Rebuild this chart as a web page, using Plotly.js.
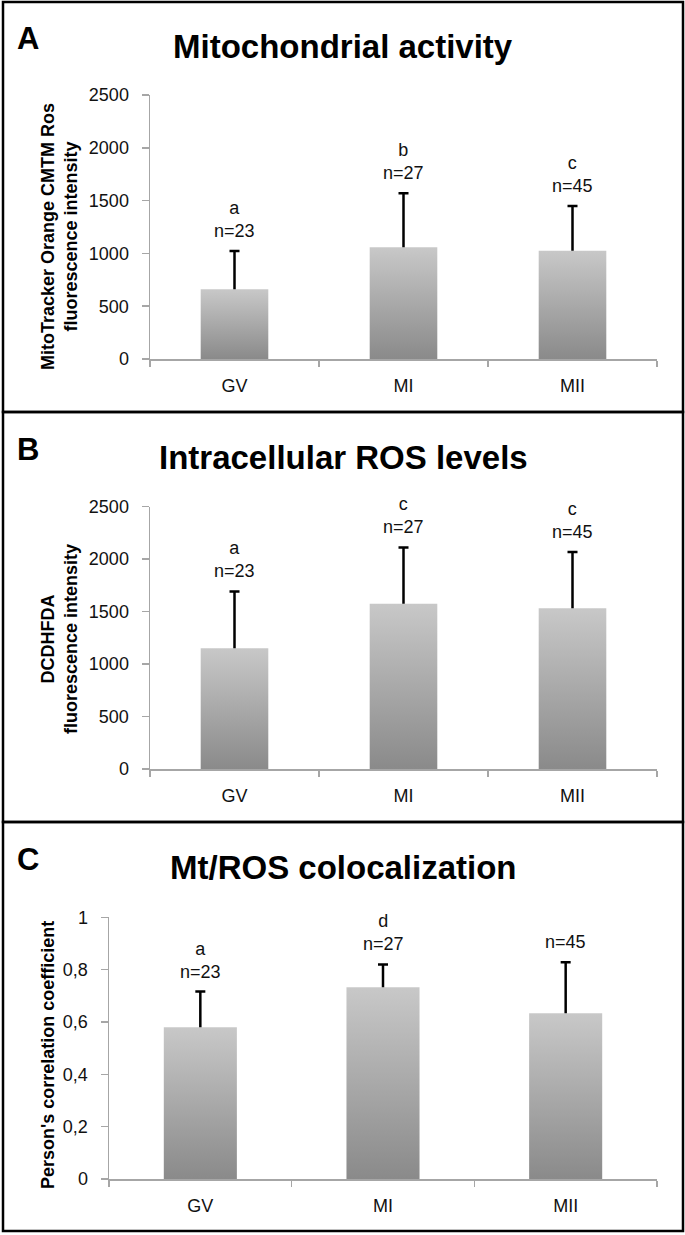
<!DOCTYPE html>
<html><head><meta charset="utf-8">
<script src="https://cdn.plot.ly/plotly-3.0.1.min.js"></script>
<style>html,body{margin:0;padding:0;background:#fff}</style>
</head><body>
<div id="chart" style="width:685px;height:1235px"></div>
<script>
// ---------- data ----------
const categories = ['GV', 'MI', 'MII'];
const sampleSizes = ['n=23', 'n=27', 'n=45'];

const mitoMean = [660, 1058, 1026];
const mitoSD = [363, 511, 423];
const mitoLetters = ['a', 'b', 'c'];

const rosMean = [1152, 1574, 1533];
const rosSD = [540, 538, 535];
const rosLetters = ['a', 'c', 'c'];

const corrMean = [0.58, 0.733, 0.633];
const corrSD = [0.136, 0.087, 0.195];
const corrLetters = ['a', 'd', ''];

const panelLetters = ['A', 'B', 'C'];
const panelTitles = ['Mitochondrial activity', 'Intracellular ROS levels', 'Mt/ROS colocalization'];
const yTitles = ['MitoTracker Orange CMTM Ros<br>fluorescence intensity',
                 'DCDHFDA<br>fluorescence intensity',
                 "Person's correlation coefficient"];

// ---------- geometry (pixels of the 685x1235 page) ----------
const W = 685, H = 1235;
const px = v => v / W;
const py = v => 1 - v / H;
const FONT = 'Liberation Sans, Arial, sans-serif';
const AXIS = '#a6a6a6';

const panels = [
  {mean: mitoMean, sd: mitoSD, letters: mitoLetters, range: [0, 2500], dtick: 500,
   xdom: [150, 657], ydom: [95, 359], top: 2, bottom: 412, ytx: 59, yty: 237},
  {mean: rosMean, sd: rosSD, letters: rosLetters, range: [0, 2500], dtick: 500,
   xdom: [150, 657], ydom: [506.7, 769], top: 412, bottom: 822, ytx: 59, yty: 639},
  {mean: corrMean, sd: corrSD, letters: corrLetters, range: [0, 1], dtick: 0.2,
   xdom: [109, 657], ydom: [917.3, 1179], top: 822, bottom: 1231, ytx: 48, yty: 1055}
];

const data = [];
const annotations = [];
const shapes = [];
const layout = {
  width: W, height: H,
  margin: {l: 0, r: 0, t: 0, b: 0},
  paper_bgcolor: '#fff', plot_bgcolor: '#fff',
  showlegend: false,
  separators: ', ',
  font: {family: FONT, size: 18, color: '#111'},
  bargap: 0.6
};

panels.forEach((p, i) => {
  const sfx = i === 0 ? '' : String(i + 1);
  const xa = 'x' + sfx, ya = 'y' + sfx;
  data.push({
    type: 'bar', x: categories, y: p.mean, xaxis: xa, yaxis: ya,
    marker: {color: '#aaaaaa', line: {width: 0}},
    error_y: {type: 'data', symmetric: false, array: p.sd,
              arrayminus: p.sd.map(() => 0), color: '#000', thickness: 2.5, width: 5},
    hoverinfo: 'none'
  });
  layout['xaxis' + sfx] = {
    domain: [px(p.xdom[0]), px(p.xdom[1])], anchor: ya, type: 'category',
    range: [-0.5, 2.5], tickson: 'boundaries', ticks: 'outside', ticklen: 6,
    tickwidth: 1.5, tickcolor: AXIS, showline: true, linecolor: AXIS, linewidth: 1.5,
    showgrid: false, ticklabelstandoff: 10, tickfont: {size: 18, family: FONT, color: '#111'}, fixedrange: true
  };
  layout['yaxis' + sfx] = {
    domain: [py(p.ydom[1]), py(p.ydom[0])], anchor: xa, range: p.range, dtick: p.dtick,
    ticks: 'outside', ticklen: 7, tickwidth: 1.5, tickcolor: AXIS, showline: true,
    linecolor: AXIS, linewidth: 1.5, showgrid: false, zeroline: false,
    ticklabelstandoff: 9, tickfont: {size: 18, family: FONT, color: '#111'}, fixedrange: true
  };
  // letters / n above error bars
  categories.forEach((c, j) => {
    annotations.push({
      x: c, y: p.mean[j] + p.sd[j], xref: xa, yref: ya, yanchor: 'bottom',
      showarrow: false, yshift: 8,
      text: p.letters[j] ? p.letters[j] + '<br>' + sampleSizes[j] : sampleSizes[j],
      font: {size: 18, family: FONT, color: '#111'}
    });
  });
  // panel title
  annotations.push({
    x: px(343), y: py(p.top + 45), xref: 'paper', yref: 'paper',
    xanchor: 'center', yanchor: 'middle', showarrow: false, text: panelTitles[i],
    font: {size: 33, family: FONT, weight: 700, color: '#000'}
  });
  // panel letter
  annotations.push({
    x: px(28), y: py(p.top + 37), xref: 'paper', yref: 'paper',
    xanchor: 'center', yanchor: 'middle', showarrow: false, text: panelLetters[i],
    font: {size: 31, family: FONT, weight: 700, color: '#000'}
  });
  // y title
  annotations.push({
    x: px(p.ytx), y: py(p.yty), xref: 'paper', yref: 'paper', textangle: -90,
    xanchor: 'center', yanchor: 'middle', showarrow: false, text: yTitles[i],
    font: {size: 18, family: FONT, weight: 700, color: '#000'}
  });
  // border
  shapes.push({
    type: 'rect', xref: 'paper', yref: 'paper',
    x0: px(3), x1: px(683), y0: py(p.bottom), y1: py(p.top),
    line: {color: '#000', width: 2.5}, fillcolor: 'rgba(0,0,0,0)'
  });
});
layout.annotations = annotations;
layout.shapes = shapes;

Plotly.newPlot('chart', data, layout, {staticPlot: true, displayModeBar: false}).then(gd => {
  const ns = 'http://www.w3.org/2000/svg';
  const svg = gd.querySelector('svg.main-svg');
  let defs = svg.querySelector('defs');
  if (!defs) { defs = document.createElementNS(ns, 'defs'); svg.insertBefore(defs, svg.firstChild); }
  const grad = document.createElementNS(ns, 'linearGradient');
  grad.setAttribute('id', 'barGrad');
  grad.setAttribute('x1', '0'); grad.setAttribute('y1', '0');
  grad.setAttribute('x2', '0'); grad.setAttribute('y2', '1');
  [['0', '#c8c8c8'], ['1', '#8a8a8a']].forEach(([o, c]) => {
    const s = document.createElementNS(ns, 'stop');
    s.setAttribute('offset', o); s.setAttribute('stop-color', c);
    grad.appendChild(s);
  });
  defs.appendChild(grad);
  gd.querySelectorAll('.barlayer .point path').forEach(p => { p.style.fill = 'url(#barGrad)'; });
  gd.querySelectorAll('.errorbar path').forEach(p => {
    const d = p.getAttribute('d');
    if (d) p.setAttribute('d', d.replace(/(V[^m]*)m.*$/, '$1'));
  });
});
</script>
</body></html>
